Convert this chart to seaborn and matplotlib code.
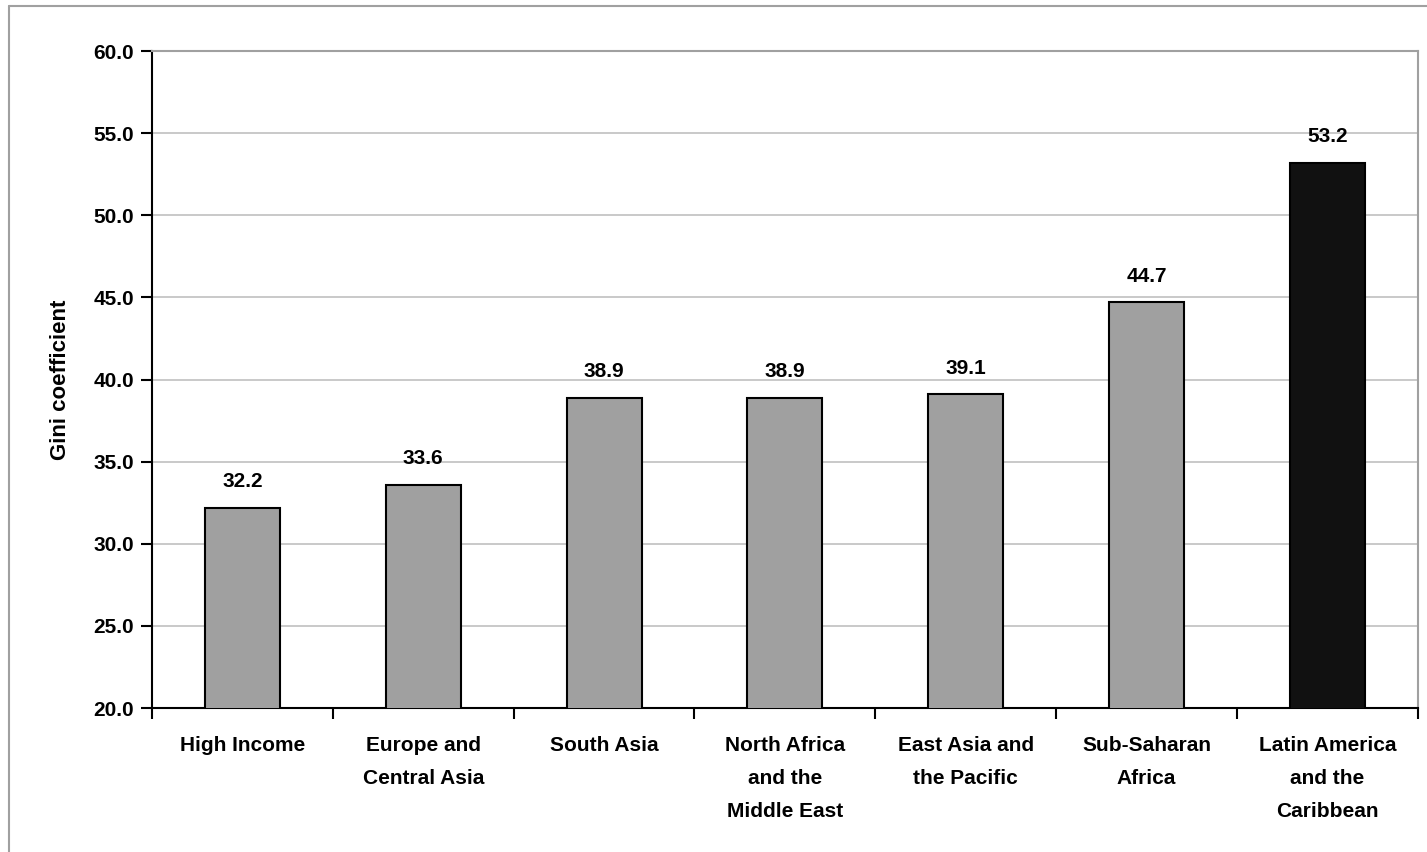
import numpy as np
import pandas as pd
import matplotlib.pyplot as plt
import seaborn as sns
from matplotlib.lines import Line2D

regions = ["High Income", "Europe and\nCentral Asia", "South Asia",
           "North Africa\nand the\nMiddle East", "East Asia and\nthe Pacific",
           "Sub-Saharan\nAfrica", "Latin America\nand the\nCaribbean"]
gini = [32.2, 33.6, 38.9, 38.9, 39.1, 44.7, 53.2]
bar_colors = ["#a0a0a0"] * 6 + ["#111111"]

df = pd.DataFrame({"region": regions, "gini": gini})

sns.set_style("white")
plt.rcParams['font.family'] = ['Liberation Sans', 'DejaVu Sans']
plt.rcParams['text.color'] = 'black'
plt.rcParams['axes.labelcolor'] = 'black'
plt.rcParams['xtick.color'] = 'black'
plt.rcParams['ytick.color'] = 'black'

fig = plt.figure(figsize=(14.27, 8.52), dpi=100)
ax = fig.add_axes([0.1065, 0.169, 0.887, 0.771])

sns.barplot(data=df, x="region", y="gini", hue="region", palette=bar_colors,
            legend=False, width=0.415, edgecolor="black", linewidth=1.5,
            ax=ax, zorder=3)

ax.set_ylim(20, 60)
ax.set_xlim(-0.5, len(regions) - 0.5)
yt = np.arange(20, 61, 5)
ax.set_yticks(yt)
ax.set_yticklabels([f"{v:.1f}" for v in yt], fontsize=15, fontweight="bold")
ax.yaxis.grid(True, color="#c0c0c0", linewidth=1.2, zorder=0)
ax.xaxis.grid(False)

ax.set_xticks(range(len(regions)))
ax.set_xticklabels(regions, fontsize=15, fontweight="bold", linespacing=1.95)
ax.set_xticks(np.arange(-0.5, len(regions), 1), minor=True)
ax.tick_params(axis="x", which="major", length=0, pad=20, bottom=True)
ax.tick_params(axis="x", which="minor", length=8, width=1.5, direction="out",
               color="black", bottom=True)
ax.tick_params(axis="y", which="major", length=8, width=1.5, direction="out",
               color="black", pad=5, left=True)

ax.set_xlabel("")
ax.set_ylabel("Gini coefficient", fontsize=16, fontweight="bold", labelpad=16)

for side in ["left", "bottom"]:
    ax.spines[side].set_color("black")
    ax.spines[side].set_linewidth(1.5)
for side in ["top", "right"]:
    ax.spines[side].set_color("#a0a0a0")
    ax.spines[side].set_linewidth(1.5)
    ax.spines[side].set_visible(True)

for i, v in enumerate(gini):
    ax.annotate(f"{v:.1f}", (i, v), xytext=(0, 12), textcoords="offset points",
                ha="center", va="bottom", fontsize=15, fontweight="bold")

# outer chart-area frame (top and left edges visible in the crop)
fig.add_artist(Line2D([9 / 1427, 1], [1 - 6 / 852, 1 - 6 / 852],
                      transform=fig.transFigure, color="#a0a0a0", lw=1.5))
fig.add_artist(Line2D([9 / 1427, 9 / 1427], [0, 1 - 6 / 852],
                      transform=fig.transFigure, color="#a0a0a0", lw=1.5))

fig.savefig("out.png", dpi=100)
